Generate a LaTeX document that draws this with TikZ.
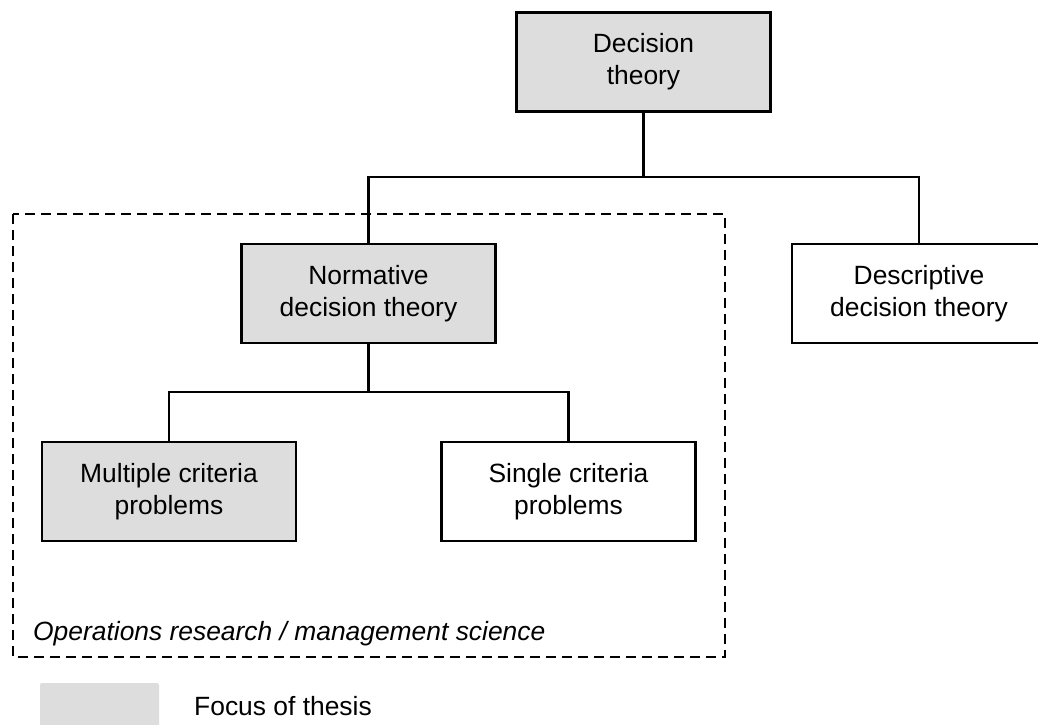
\documentclass[tikz,border=0pt]{standalone}
\usepackage{fontspec}
\setmainfont{Liberation Sans}
\definecolor{focusgray}{RGB}{221,221,221}
\begin{document}
\begin{tikzpicture}[x=1pt,y=-1pt,
  every node/.style={font=\fontsize{26.4}{31.7}\selectfont},
  box/.style={draw=black,line width=2.5pt,minimum width=254pt,minimum height=99pt,
    inner sep=0pt,align=center},
  focus/.style={box,fill=focusgray},
  link/.style={draw=black,line width=2.5pt}]
\useasboundingbox (0,0) rectangle (1038,724);
\fill[white] (0,0) rectangle (1038,724);
\begin{scope}
\clip (0,0) rectangle (1038,724);

% hierarchy boxes
\node[focus] (dt) at (643.5,62)  {Decision\\theory};
\node[focus] (nd) at (368.5,293.5) {Normative\\decision theory};
\node[box]   (dd) at (919,293.5) {Descriptive\\decision theory};
\node[focus] (mc) at (169,491.5) {Multiple criteria\\problems};
\node[box]   (sc) at (568.5,491.5) {Single criteria\\problems};

% branch points
\coordinate (j1) at (dt.south |- 0,177);
\coordinate (j2) at (nd.south |- 0,392);

% connectors
\draw[link] (dt.south) -- (j1);
\draw[link] (nd.north) |- (j1) -| (dd.north);
\draw[link] (nd.south) -- (j2);
\draw[link] (mc.north) |- (j2) -| (sc.north);

% operations research frame
\draw[line width=2.5pt,dash pattern=on 10pt off 6pt] (13,214) rectangle (725,657);
\node[anchor=base west,inner sep=0pt,font=\fontsize{26.4}{31.7}\selectfont\itshape]
  (or) at (33,640) {Operations research / management science};

% legend
\fill[focusgray,rounded corners=2pt] (40,683) rectangle (159,740);
\node[anchor=base west,inner sep=0pt] (lg) at (194,715) {Focus of thesis};
\end{scope}
\end{tikzpicture}
\end{document}
